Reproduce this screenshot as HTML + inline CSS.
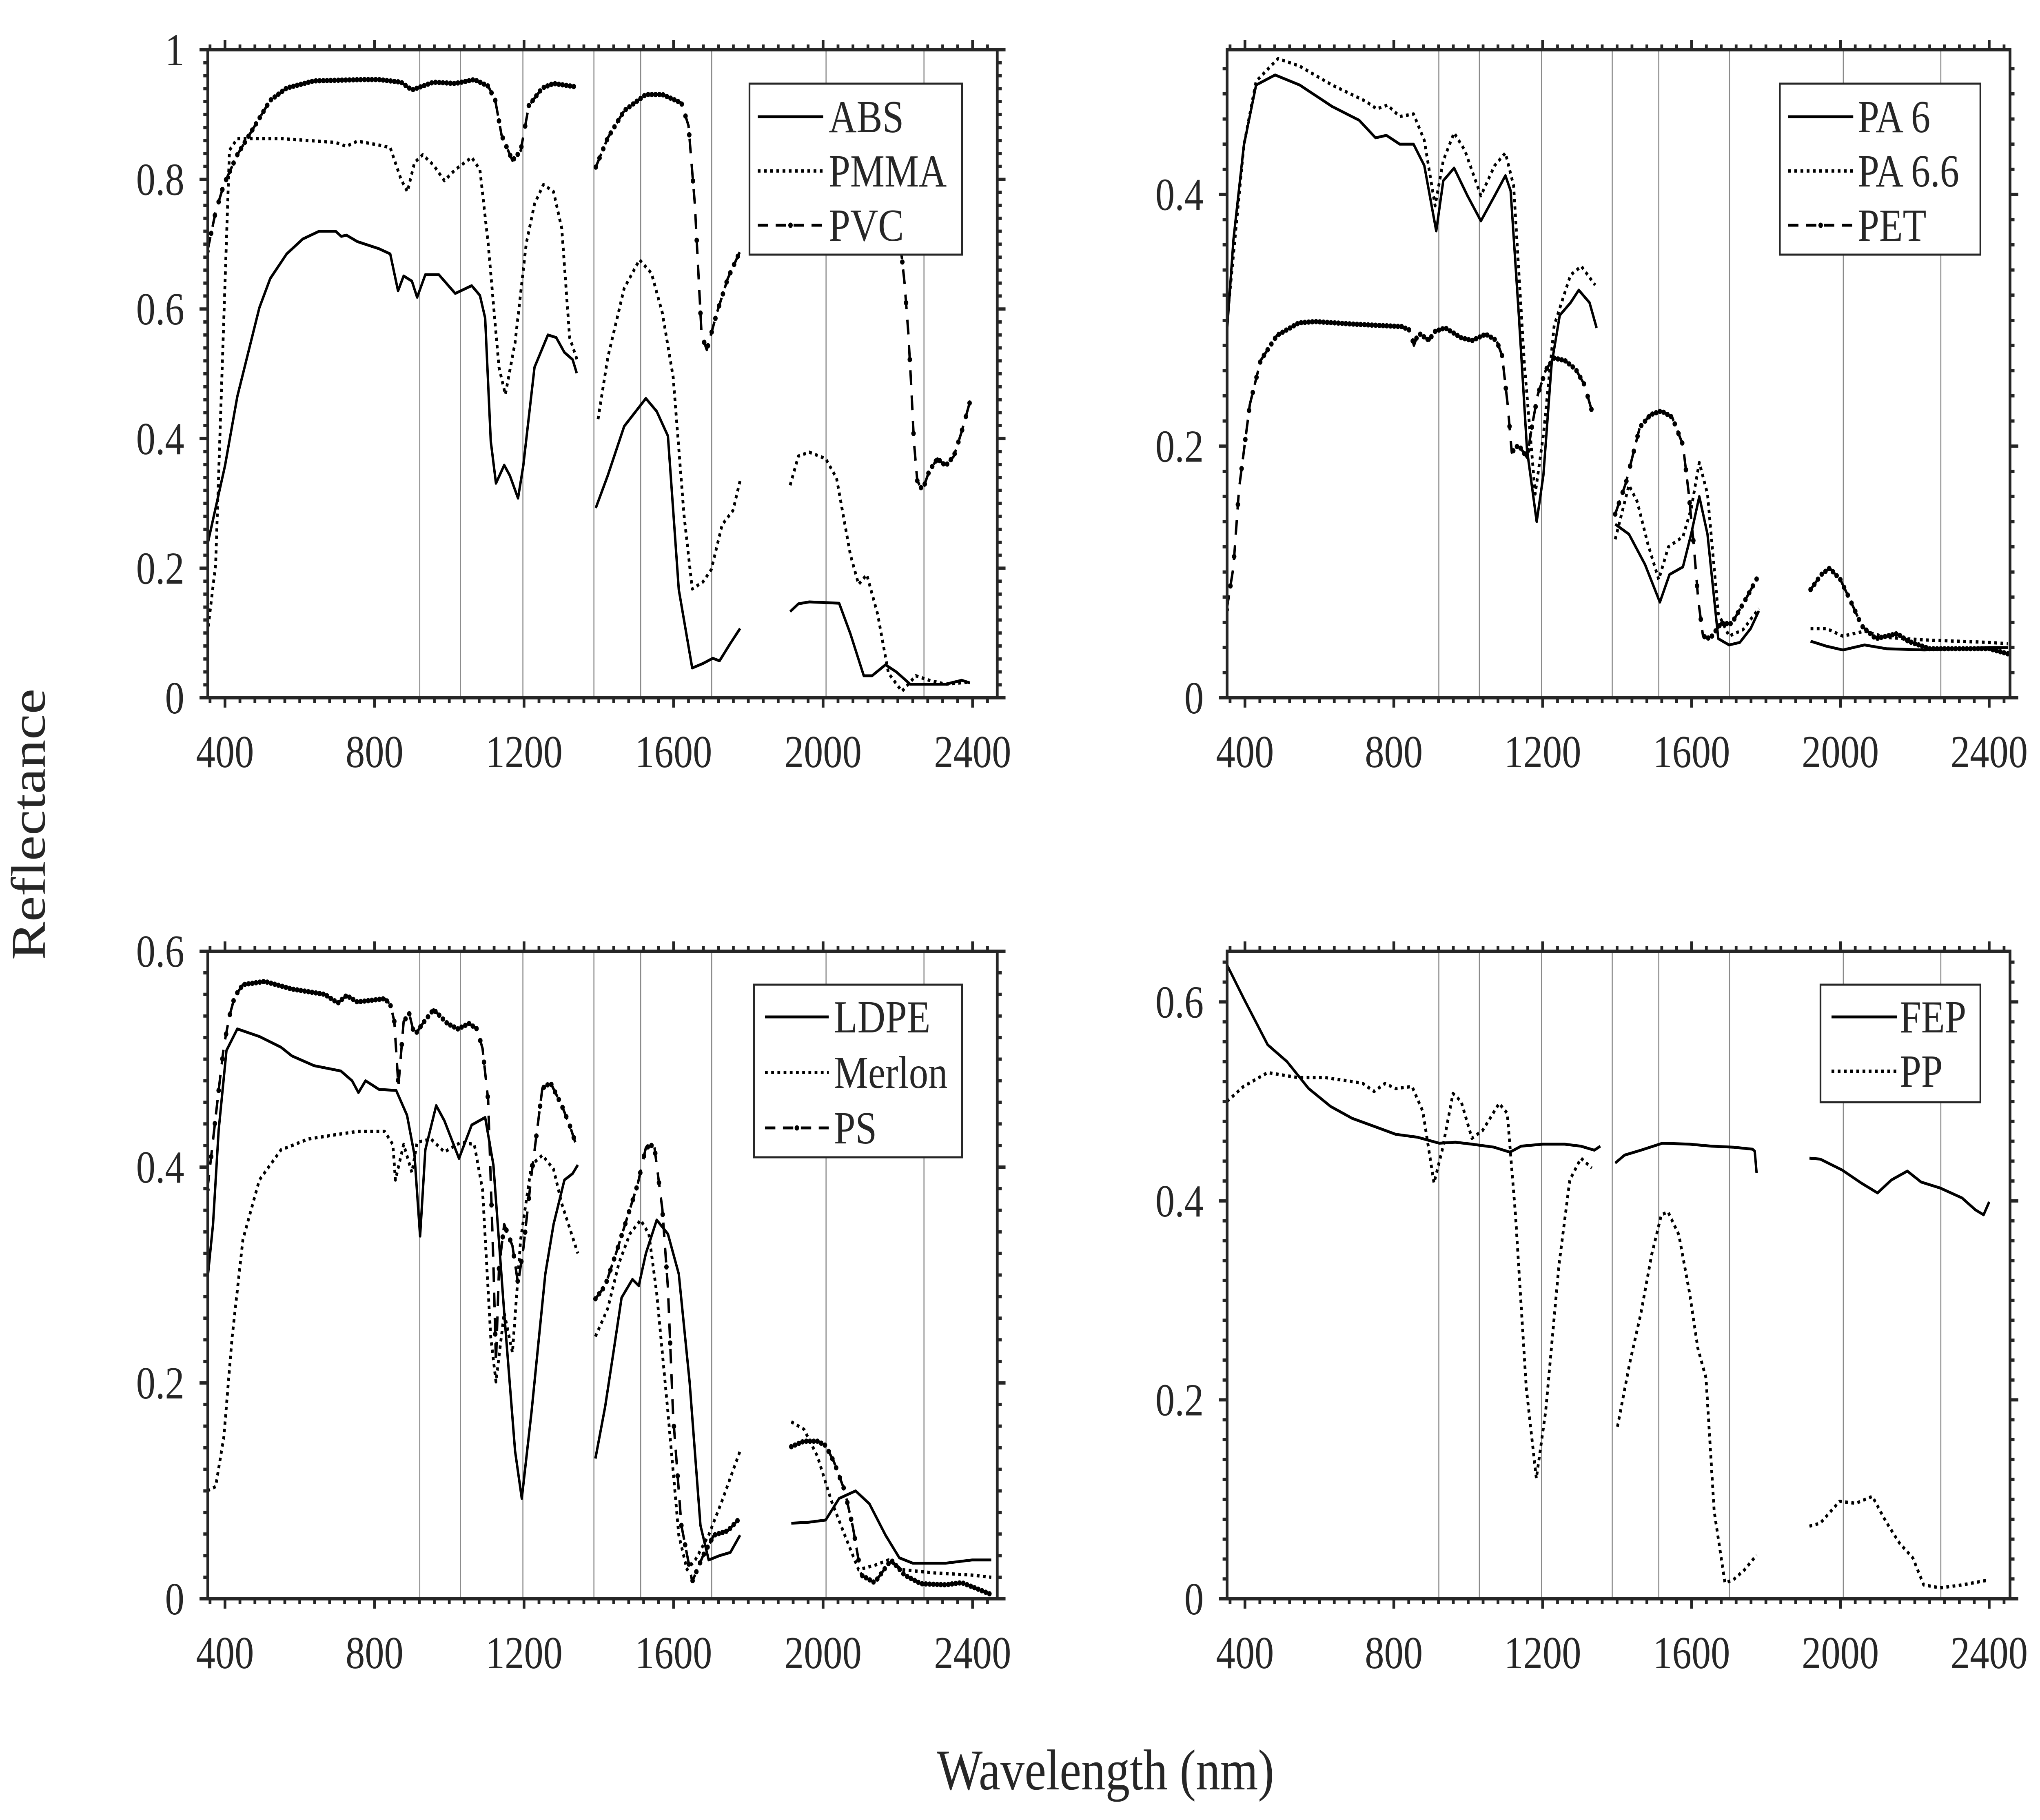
<!DOCTYPE html>
<html><head><meta charset="utf-8"><title>Reflectance spectra</title>
<style>
html,body{margin:0;padding:0;background:#fff;width:100%;height:100%;overflow:hidden;}
svg{display:block;width:100vw;height:100vh;}
text{font-family:"Liberation Serif","DejaVu Serif",serif;fill:#262626;}
</style></head>
<body>
<svg id="fig" xmlns="http://www.w3.org/2000/svg" viewBox="0 0 5920 4460" preserveAspectRatio="none">
<rect x="0" y="0" width="5920" height="4460" fill="#fff"/>
<text x="3208" y="4385" font-size="141" text-anchor="middle">Wavelength (nm)</text>
<text transform="translate(130,2020) rotate(-90)" font-size="141" text-anchor="middle">Reflectance</text>
</svg>
<script>
// ---------- shared axis data ----------
const xTickLabels = [400, 800, 1200, 1600, 2000, 2400];
const bandLines = [921, 1030, 1197, 1387, 1512, 1702, 2008, 2270];

// ---------- top-left panel ----------
const absNm = [353,400,433,492,521,565,608,652,696,711,725,754,812,842,863,878,900,914,936,972,1016,1060,1082,1096,1111,1125,1147,1162,1184,1198,1228,1264,1286,1308,1330,1341,null,
 1392,1424,1468,1526,1555,1585,1614,1650,1679,1705,1723,1752,1778,null,
 1912,1934,1963,2043,2073,2109,2131,2167,2196,2233,2328,2371,2393];
const absR = [0.236,0.358,0.465,0.602,0.647,0.685,0.708,0.720,0.720,0.712,0.714,0.704,0.693,0.685,0.628,0.651,0.643,0.618,0.653,0.653,0.624,0.636,0.621,0.586,0.396,0.331,0.359,0.343,0.308,0.358,0.510,0.560,0.556,0.533,0.522,0.501,null,
 0.293,0.343,0.419,0.462,0.442,0.404,0.167,0.046,0.053,0.061,0.057,0.084,0.107,null,
 0.133,0.145,0.148,0.146,0.099,0.034,0.034,0.051,0.040,0.021,0.021,0.027,0.023];
const pmmaNm = [353,375,397,412,433,550,696,725,754,812,842,871,888,907,929,958,987,1016,1060,1082,1104,1133,1150,1176,1206,1228,1252,1279,1301,1322,1344,null,
 1398,1424,1468,1509,1541,1570,1599,1628,1650,1679,1701,1730,1759,1778,null,
 1912,1934,1963,2007,2036,2073,2095,2117,2146,2175,2211,2248,2284,2328,2386];
const pmmaR = [0.099,0.206,0.586,0.845,0.863,0.863,0.857,0.851,0.859,0.853,0.849,0.800,0.781,0.826,0.838,0.822,0.798,0.815,0.834,0.815,0.701,0.510,0.468,0.548,0.701,0.762,0.792,0.781,0.724,0.556,0.518,null,
 0.430,0.525,0.632,0.676,0.655,0.594,0.495,0.282,0.168,0.179,0.198,0.267,0.289,0.335,null,
 0.328,0.373,0.379,0.369,0.339,0.221,0.175,0.190,0.129,0.038,0.010,0.034,0.027,0.021,0.024];
const pvcNm = [353,375,397,433,477,521,565,638,768,812,871,900,958,1016,1067,1104,1123,1140,1169,1191,1213,1249,1279,1337,null,
 1392,1424,1468,1526,1570,1621,1640,1657,1675,1689,1716,1745,1778,null,
 1912,2000,2100,2180,2211,2218,2228,2236,2243,2252,2266,2284,2306,2328,2350,2371,2393];
const pvcR = [0.689,0.750,0.792,0.838,0.880,0.922,0.941,0.952,0.954,0.954,0.950,0.938,0.950,0.948,0.954,0.944,0.922,0.868,0.829,0.844,0.914,0.941,0.948,0.943,null,
 0.819,0.864,0.906,0.931,0.931,0.918,0.883,0.762,0.560,0.537,0.594,0.647,0.689,null,
 0.92,0.93,0.90,0.80,0.678,0.640,0.564,0.480,0.396,0.335,0.320,0.350,0.369,0.358,0.373,0.411,0.457];

// ---------- top-right panel ----------
const pa6Nm = [351,369,397,430,481,547,634,707,751,780,816,853,882,914,933,962,998,1034,1071,1100,1114,1136,1158,1184,1202,1224,1246,1275,1297,1326,1345,null,
 1395,1432,1475,1515,1541,1577,1599,1621,1643,1672,1701,1730,1759,1781,null,
 1920,1963,2007,2065,2124,2226,2400,2450];
const pa6R = [0.288,0.364,0.439,0.487,0.495,0.487,0.470,0.459,0.445,0.447,0.440,0.440,0.423,0.371,0.411,0.421,0.399,0.379,0.399,0.415,0.403,0.304,0.197,0.140,0.177,0.265,0.304,0.314,0.324,0.314,0.294,null,
 0.138,0.130,0.106,0.076,0.098,0.104,0.130,0.160,0.130,0.047,0.042,0.044,0.055,0.069,null,
 0.045,0.041,0.038,0.042,0.039,0.038,0.040,0.040];
const pa66Nm = [351,397,430,489,547,634,725,754,783,816,853,882,911,933,962,991,1034,1071,1100,1122,1151,1180,1202,1231,1275,1304,1341,null,
 1395,1432,1454,1483,1512,1538,1577,1599,1621,1643,1672,1701,1738,1781,null,
 1920,1963,2007,2065,2124,2226,2400,2450];
const pa66R = [0.296,0.439,0.490,0.508,0.502,0.487,0.474,0.468,0.471,0.462,0.464,0.443,0.391,0.427,0.449,0.435,0.399,0.423,0.433,0.407,0.265,0.162,0.209,0.296,0.336,0.343,0.328,null,
 0.126,0.169,0.156,0.122,0.094,0.120,0.128,0.150,0.187,0.162,0.067,0.049,0.054,0.071,null,
 0.055,0.055,0.049,0.053,0.048,0.046,0.044,0.043];
const petNm = [351,369,384,413,442,486,545,589,691,822,844,854,866,895,909,938,982,1011,1047,1076,1091,1106,1117,1135,1158,1172,1187,1209,1231,1260,1289,1312,1337,null,
 1395,1424,1461,1490,1519,1548,1577,1592,1606,1618,1631,1650,1679,1708,1745,1778,null,
 1920,1949,1971,2000,2029,2058,2095,2153,2182,2240,2400,2450];
const petR = [0.070,0.104,0.166,0.233,0.268,0.288,0.298,0.299,0.297,0.295,0.292,0.280,0.290,0.284,0.291,0.294,0.286,0.284,0.289,0.284,0.272,0.233,0.195,0.201,0.191,0.217,0.241,0.261,0.270,0.268,0.261,0.249,0.223,null,
 0.146,0.171,0.215,0.225,0.228,0.223,0.201,0.164,0.122,0.078,0.049,0.047,0.059,0.059,0.078,0.096,null,
 0.086,0.098,0.103,0.094,0.076,0.057,0.047,0.051,0.045,0.039,0.039,0.035];

// ---------- bottom-left panel ----------
const ldpeNm = [353,368,383,404,433,492,550,579,638,710,740,757,776,812,858,887,907,922,936,965,987,1026,1060,1096,1118,1147,1176,1194,1220,1257,1279,1308,1330,1344,null,
 1391,1417,1439,1461,1490,1507,1526,1555,1585,1614,1643,1672,1694,1723,1752,1778,null,
 1915,1963,2007,2043,2087,2124,2167,2204,2240,2328,2398,2450];
const ldpeR = [0.295,0.347,0.434,0.508,0.528,0.521,0.511,0.503,0.494,0.489,0.480,0.469,0.480,0.472,0.471,0.448,0.411,0.336,0.416,0.457,0.443,0.408,0.439,0.446,0.402,0.265,0.137,0.093,0.173,0.301,0.347,0.388,0.394,0.402,null,
 0.130,0.178,0.228,0.279,0.296,0.290,0.320,0.351,0.338,0.301,0.201,0.068,0.036,0.040,0.043,0.059,null,
 0.070,0.071,0.073,0.093,0.100,0.088,0.059,0.038,0.033,0.033,0.036,0.036];
const merlonNm = [353,375,397,419,448,492,550,623,696,754,827,849,856,878,900,914,951,987,1031,1067,1089,1111,1125,1147,1169,1191,1220,1249,1279,1301,1344,null,
 1391,1424,1454,1483,1512,1534,1555,1585,1614,1636,1658,1694,1730,1778,null,
 1915,1949,1985,2022,2058,2095,2138,2175,2211,2298,2398,2450];
const merlonR = [0.100,0.104,0.150,0.242,0.333,0.388,0.416,0.426,0.430,0.433,0.433,0.421,0.388,0.421,0.395,0.423,0.426,0.414,0.423,0.421,0.379,0.242,0.201,0.265,0.228,0.333,0.402,0.411,0.398,0.366,0.320,null,
 0.243,0.269,0.311,0.338,0.351,0.338,0.283,0.173,0.059,0.027,0.036,0.059,0.091,0.137,null,
 0.164,0.157,0.132,0.091,0.059,0.027,0.031,0.036,0.027,0.024,0.022,0.020];
const psNm = [353,368,383,397,412,426,448,506,579,667,702,725,754,827,842,853,864,878,893,907,929,958,995,1023,1053,1074,1089,1104,1118,1125,1133,1147,1169,1184,1198,1220,1249,1271,1301,1322,1337,null,
 1391,1417,1446,1475,1504,1526,1548,1570,1585,1599,1621,1650,1679,1708,1745,1778,null,
 1915,1949,1985,2007,2029,2058,2080,2102,2138,2182,2218,2262,2328,2371,2393,2450];
const psR = [0.379,0.425,0.471,0.512,0.540,0.558,0.569,0.572,0.565,0.560,0.552,0.559,0.553,0.556,0.551,0.535,0.475,0.535,0.542,0.522,0.533,0.546,0.533,0.528,0.533,0.528,0.510,0.462,0.311,0.219,0.306,0.347,0.327,0.292,0.324,0.393,0.473,0.478,0.457,0.439,0.423,null,
 0.278,0.290,0.320,0.352,0.384,0.418,0.421,0.361,0.288,0.169,0.068,0.016,0.040,0.059,0.063,0.075,null,
 0.141,0.146,0.146,0.142,0.127,0.100,0.066,0.022,0.015,0.036,0.022,0.014,0.013,0.015,0.012,0.004];

// ---------- bottom-right panel ----------
const fepNm = [352,396,461,513,571,630,688,747,805,864,922,966,1010,1069,1112,1142,1200,1259,1303,1339,1355,null,
 1395,1420,1464,1522,1595,1654,1712,1764,1770,1775,null,
 1917,1946,2005,2056,2100,2137,2180,2217,2268,2327,2363,2385,2400];
const fepR = [0.637,0.604,0.557,0.540,0.513,0.495,0.483,0.475,0.467,0.464,0.458,0.459,0.457,0.454,0.449,0.455,0.457,0.457,0.455,0.451,0.455,null,
 0.438,0.446,0.451,0.458,0.457,0.455,0.454,0.452,0.450,0.428,null,
 0.443,0.442,0.431,0.418,0.408,0.421,0.430,0.419,0.413,0.403,0.391,0.386,0.399];
const ppNm = [352,396,461,542,615,688,717,747,776,805,849,878,908,930,959,981,1010,1039,1083,1105,1127,1156,1183,1208,1244,1273,1303,1332,null,
 1401,1434,1464,1493,1519,1537,1566,1595,1617,1639,1661,1690,1712,1742,1775,null,
 1917,1946,1998,2042,2086,2122,2159,2195,2224,2268,2327,2400];
const ppR = [0.500,0.515,0.529,0.524,0.524,0.520,0.518,0.510,0.518,0.513,0.515,0.490,0.418,0.451,0.508,0.500,0.463,0.471,0.498,0.488,0.386,0.212,0.121,0.188,0.336,0.421,0.443,0.433,null,
 0.173,0.237,0.287,0.346,0.386,0.389,0.366,0.307,0.252,0.222,0.088,0.016,0.019,0.029,0.044,null,
 0.073,0.076,0.098,0.096,0.103,0.078,0.056,0.041,0.014,0.011,0.014,0.019];

// ---------- tick label arrays ----------
const yTicksTL = [0, 0.2, 0.4, 0.6, 0.8, 1];
const yTicksTR = [0, 0.2, 0.4];
const yTicksBL = [0, 0.2, 0.4, 0.6];
const yTicksBR = [0, 0.2, 0.4, 0.6];

// ---------- rendering ----------
const NS = 'http://www.w3.org/2000/svg';
const svg = document.getElementById('fig');
function mk(tag, attrs, parent) {
  const e = document.createElementNS(NS, tag);
  for (const k in attrs) e.setAttribute(k, attrs[k]);
  (parent || svg).appendChild(e);
  return e;
}
const AX = '#262626';
const STYLES = {
  solid: {w: 7, dash: null, markers: false},
  dotted: {w: 8, dash: '8 10', markers: false},
  dashdot: {w: 7, dash: '36 26', markers: true}
};
function fmt(v) { return v === 0 ? '0' : (v === 1 ? '1' : String(+v.toFixed(1))); }

function drawPanel(p) {
  const g = mk('g', {});
  
  
  const xs = nm => p.L + (nm - p.x0) / (p.x1 - p.x0) * (p.R - p.L);
  const ys = v => p.B - v / p.ymax * (p.B - p.T);
  const cid = 'clip-' + p.name;
  const cp = mk('clipPath', {id: cid}, g);
  mk('rect', {x: p.L, y: p.T, width: p.R - p.L, height: p.B - p.T}, cp);
  bandLines.forEach(nm => {
    const l = mk('line', {x1: xs(nm), x2: xs(nm), y1: p.T, y2: p.B, stroke: '#8a8a8a', 'stroke-width': 3}, g);
    
    
  });
  const sg = mk('g', {'clip-path': 'url(#' + cid + ')'}, g);
  p.series.forEach(s => {
    const st = STYLES[s.style];
    let d = '';
    const segs = []; let cur = [];
    for (let i = 0; i < s.nm.length; i++) {
      if (s.nm[i] === null || s.r[i] === null) { if (cur.length) segs.push(cur); cur = []; continue; }
      cur.push([s.nm[i], s.r[i]]);
    }
    if (cur.length) segs.push(cur);
    segs.forEach(seg => {
      seg.forEach((pt, j) => { d += (j ? 'L' : 'M') + xs(pt[0]).toFixed(1) + ' ' + ys(pt[1]).toFixed(1); });
    });
    const attrs = {d: d, fill: 'none', stroke: '#000', 'stroke-width': st.w, 'stroke-linejoin': 'round'};
    if (st.dash) attrs['stroke-dasharray'] = st.dash;
    const path = mk('path', attrs, sg);
    
    
    if (st.markers) {
      segs.forEach(seg => {
        for (let nm = seg[0][0]; nm <= seg[seg.length - 1][0]; nm += 10) {
          let k = 0;
          while (k < seg.length - 2 && seg[k + 1][0] < nm) k++;
          const a = seg[k], b = seg[Math.min(k + 1, seg.length - 1)];
          const t = b[0] === a[0] ? 0 : Math.max(0, Math.min(1, (nm - a[0]) / (b[0] - a[0])));
          const v = a[1] + (b[1] - a[1]) * t;
          const c = mk('circle', {cx: xs(nm).toFixed(1), cy: ys(v).toFixed(1), r: 6.5, fill: '#000'}, sg);
          
          
        }
      });
    }
  });
  const lg = mk('g', {}, g);
  
  
  const lb = p.legend;
  mk('rect', {x: lb.x, y: lb.y, width: lb.w, height: lb.h, fill: '#fff', stroke: AX, 'stroke-width': 5}, lg);
  p.series.forEach((s, i) => {
    const cy = lb.y + lb.row0 + i * lb.dy;
    const st = STYLES[s.style];
    const la = {x1: lb.x + lb.lx0, x2: lb.x + lb.lx1, y1: cy, y2: cy, stroke: '#000', 'stroke-width': st.w};
    if (st.dash) la['stroke-dasharray'] = s.style === 'dashdot' ? '30 22' : st.dash;
    const ln = mk('line', la, lg);
    
    
    if (st.markers) mk('circle', {cx: lb.x + (lb.lx0 + lb.lx1) / 2, cy: cy, r: 6.5, fill: '#000'}, lg);
    const tx = mk('text', {x: lb.x + lb.tx, y: cy + 38, 'font-size': 112}, lg);
    tx.textContent = s.label;
    
    
  });
  const box = mk('rect', {x: p.L, y: p.T, width: p.R - p.L, height: p.B - p.T, fill: 'none', stroke: AX, 'stroke-width': 8}, g);
  
  
  let td = '';
  for (let nm = 360; nm <= p.x1; nm += 40) {
    const x = xs(nm); if (x < p.L + 2) continue;
    const len = (nm % 400 === 0) ? 24 : 13;
    td += 'M' + x.toFixed(1) + ' ' + p.B + 'v' + len + 'M' + x.toFixed(1) + ' ' + p.T + 'v' + (-len);
  }
  for (let k = 0; k * 0.02 <= p.ymax + 1e-9; k++) {
    const y = ys(k * 0.02);
    const len = (k % 10 === 0) ? 24 : 13;
    td += 'M' + p.L + ' ' + y.toFixed(1) + 'h' + (-len) + 'M' + p.R + ' ' + y.toFixed(1) + 'h' + len;
  }
  const tk = mk('path', {d: td, stroke: AX, 'stroke-width': 8, fill: 'none'}, g);
  
  
  xTickLabels.forEach(v => {
    const t = mk('text', {x: xs(v).toFixed(1), y: p.B + 170, 'font-size': 112, 'text-anchor': 'middle'}, g);
    t.textContent = String(v);
    
    
  });
  p.yTicks.forEach(v => {
    const t = mk('text', {x: p.L - 68, y: (ys(v) + 38).toFixed(1), 'font-size': 112, 'text-anchor': 'end'}, g);
    t.textContent = fmt(v);
    
    
  });
}

drawPanel({name: 'panel-abs-pmma-pvc', L: 603, R: 2894, T: 122, B: 1710, x0: 354, x1: 2466, ymax: 1, yTicks: yTicksTL,
  legend: {x: 2175, y: 205, w: 617, h: 419, row0: 81, dy: 133, lx0: 24, lx1: 214, tx: 230},
  series: [{key: 'abs', label: 'ABS', style: 'solid', nm: absNm, r: absR},
           {key: 'pmma', label: 'PMMA', style: 'dotted', nm: pmmaNm, r: pmmaR},
           {key: 'pvc', label: 'PVC', style: 'dashdot', nm: pvcNm, r: pvcR}]});
drawPanel({name: 'panel-pa6-pa66-pet', L: 3561, R: 5833, T: 122, B: 1710, x0: 352, x1: 2456, ymax: 0.515, yTicks: yTicksTR,
  legend: {x: 5165, y: 205, w: 582, h: 419, row0: 81, dy: 133, lx0: 24, lx1: 213, tx: 226},
  series: [{key: 'pa6', label: 'PA 6', style: 'solid', nm: pa6Nm, r: pa6R},
           {key: 'pa66', label: 'PA 6.6', style: 'dotted', nm: pa66Nm, r: pa66R},
           {key: 'pet', label: 'PET', style: 'dashdot', nm: petNm, r: petR}]});
drawPanel({name: 'panel-ldpe-merlon-ps', L: 603, R: 2894, T: 2331, B: 3918, x0: 354, x1: 2466, ymax: 0.6, yTicks: yTicksBL,
  legend: {x: 2188, y: 2413, w: 604, h: 423, row0: 79, dy: 136, lx0: 32, lx1: 217, tx: 232},
  series: [{key: 'ldpe', label: 'LDPE', style: 'solid', nm: ldpeNm, r: ldpeR},
           {key: 'merlon', label: 'Merlon', style: 'dotted', nm: merlonNm, r: merlonR},
           {key: 'ps', label: 'PS', style: 'dashdot', nm: psNm, r: psR}]});
drawPanel({name: 'panel-fep-pp', L: 3561, R: 5833, T: 2331, B: 3918, x0: 352, x1: 2456, ymax: 0.651, yTicks: yTicksBR,
  legend: {x: 5283, y: 2413, w: 464, h: 288, row0: 79, dy: 133, lx0: 32, lx1: 222, tx: 230},
  series: [{key: 'fep', label: 'FEP', style: 'solid', nm: fepNm, r: fepR},
           {key: 'pp', label: 'PP', style: 'dotted', nm: ppNm, r: ppR}]});
</script>
</body></html>
